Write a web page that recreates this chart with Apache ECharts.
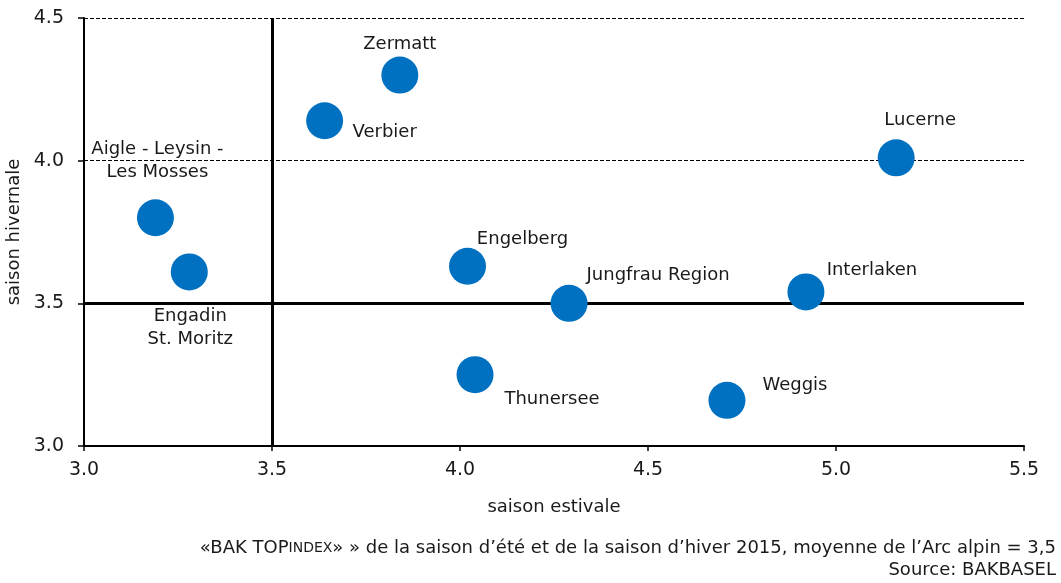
<!DOCTYPE html>
<html>
<head>
<meta charset="utf-8">
<script src="https://cdn.jsdelivr.net/npm/echarts@6/dist/echarts.min.js"></script>
<style>html,body{margin:0;padding:0;background:#fff;}#c{width:1061px;height:583px;}</style>
</head>
<body>
<div id="c"></div>
<script>
// ---- data ----
const names = ['Zermatt', 'Verbier', 'Lucerne', 'Aigle - Leysin -\nLes Mosses', 'Engadin\nSt. Moritz', 'Engelberg', 'Jungfrau Region', 'Interlaken', 'Thunersee', 'Weggis'];
const summerVals = [3.84, 3.64, 5.16, 3.19, 3.28, 4.02, 4.29, 4.92, 4.04, 4.71];
const winterVals = [4.30, 4.14, 4.01, 3.80, 3.61, 3.63, 3.50, 3.54, 3.25, 3.16];
const xTicks = ['3.0', '3.5', '4.0', '4.5', '5.0', '5.5'];
const yTicks = ['3.0', '3.5', '4.0', '4.5'];
const alpineAverage = 3.5;
const xAxisTitle = 'saison estivale';
const yAxisTitle = 'saison hivernale';
const noteLine1a = '«BAK TOP';
const noteLine1b = 'INDEX';
const noteLine1c = '» » de la saison d’été et de la saison d’hiver 2015, moyenne de l’Arc alpin = 3,5';
const noteLine2 = 'Source: BAKBASEL';

// ---- layout (label offsets relative to the dot) ----
const labelOffsets = [[0, -31], [60, 12], [24, -37], [2, -57], [1, 56], [55, -27], [89, -28], [66, -22], [77, 25], [68, -15]];

const FONT = 'DejaVu Sans';
const TXT = '#1a1a1a';
const points = names.map((n, i) => ({
  name: n,
  value: [summerVals[i], winterVals[i]],
  label: { offset: labelOffsets[i] }
}));

const chart = echarts.init(document.getElementById('c'), null, { renderer: 'canvas' });
chart.setOption({
  animation: false,
  backgroundColor: '#ffffff',
  grid: { left: 84, right: 37, top: 18, bottom: 137, containLabel: false, outerBoundsMode: 'none' },
  xAxis: {
    type: 'value', min: 3.0, max: 5.5, interval: 0.5,
    name: xAxisTitle, nameLocation: 'middle', nameGap: 52,
    nameTextStyle: { fontFamily: FONT, fontSize: 18, color: TXT },
    axisLine: { show: true, lineStyle: { color: '#000', width: 2 } },
    axisTick: { show: true, length: 5, lineStyle: { color: '#000', width: 1.5 } },
    axisLabel: { fontFamily: FONT, fontSize: 19, color: TXT, margin: 15,
      formatter: v => xTicks.find(t => Math.abs(parseFloat(t) - v) < 1e-6) || '' },
    splitLine: { show: false }
  },
  yAxis: {
    type: 'value', min: 3.0, max: 4.5, interval: 0.5,
    name: yAxisTitle, nameLocation: 'middle', nameGap: 58,
    nameTextStyle: { fontFamily: FONT, fontSize: 18, color: TXT },
    axisLine: { show: true, lineStyle: { color: '#000', width: 2 } },
    axisTick: { show: true, length: 6, lineStyle: { color: '#000', width: 1.5 } },
    axisLabel: { fontFamily: FONT, fontSize: 19, color: TXT, margin: 20,
      formatter: v => yTicks.find(t => Math.abs(parseFloat(t) - v) < 1e-6) || '' },
    splitLine: { show: true, lineStyle: { color: '#000', width: 1, type: [4, 2] } }
  },
  series: [
    {
      type: 'scatter',
      data: [],
      z: 1,
      silent: true,
      markLine: {
        silent: true,
        symbol: 'none',
        label: { show: false },
        lineStyle: { color: '#000', width: 3, type: 'solid' },
        data: [{ xAxis: alpineAverage }, { yAxis: alpineAverage }]
      }
    },
    {
      type: 'scatter',
      z: 5,
      symbol: 'circle',
      symbolSize: 37,
      itemStyle: { color: '#0070C0', opacity: 1 },
      label: {
        show: true,
        position: 'inside',
        formatter: p => p.name,
        fontFamily: FONT, fontSize: 18, color: TXT,
        lineHeight: 23, align: 'center', verticalAlign: 'middle'
      },
      data: points
    }
  ],
  graphic: [
    {
      type: 'text', right: 5, top: 539,
      style: {
        text: '{a|' + noteLine1a + '}{b|' + noteLine1b + '}{a|' + noteLine1c + '}',
        rich: {
          a: { fontFamily: FONT, fontSize: 18, fill: TXT },
          b: { fontFamily: FONT, fontSize: 14, fill: TXT }
        }
      }
    },
    {
      type: 'text', right: 5, top: 561,
      style: { text: noteLine2, fontFamily: FONT, fontSize: 18, fill: TXT }
    }
  ]
});
</script>
</body>
</html>
